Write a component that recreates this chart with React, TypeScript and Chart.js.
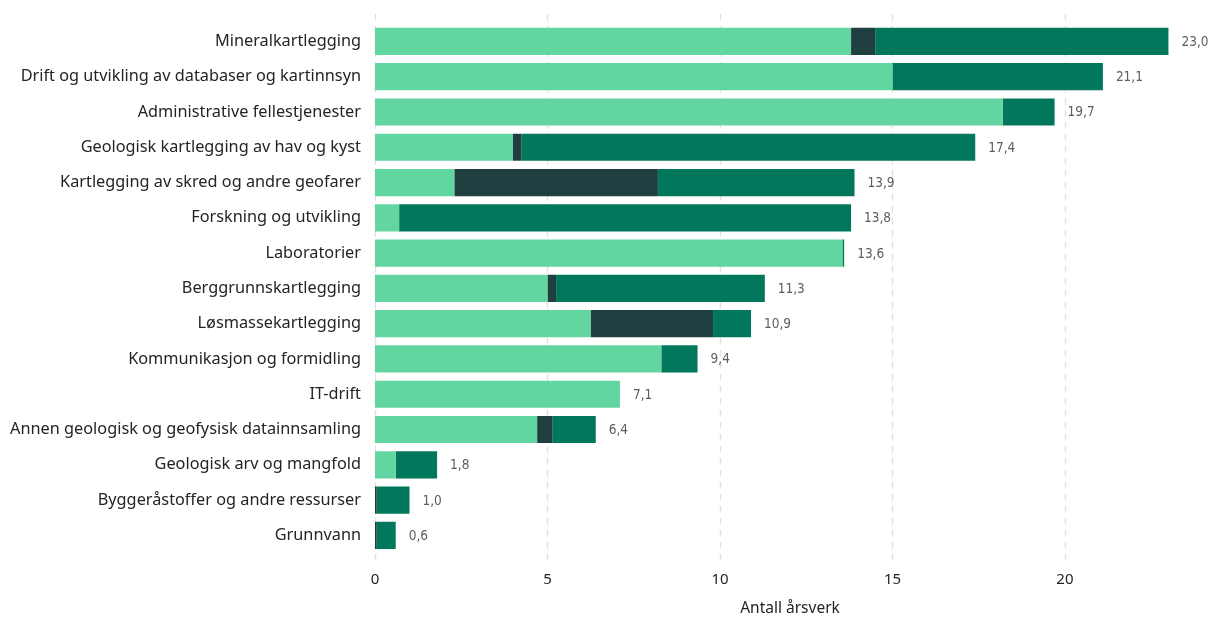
import React, { useEffect, useRef } from "react";
import { Chart, registerables } from "chart.js";

Chart.register(...registerables);

const categories = [
  "Mineralkartlegging",
  "Drift og utvikling av databaser og kartinnsyn",
  "Administrative fellestjenester",
  "Geologisk kartlegging av hav og kyst",
  "Kartlegging av skred og andre geofarer",
  "Forskning og utvikling",
  "Laboratorier",
  "Berggrunnskartlegging",
  "Løsmassekartlegging",
  "Kommunikasjon og formidling",
  "IT-drift",
  "Annen geologisk og geofysisk datainnsamling",
  "Geologisk arv og mangfold",
  "Byggeråstoffer og andre ressurser",
  "Grunnvann",
];

const seriesLight = [13.8, 15.0, 18.2, 4.0, 2.3, 0.7, 13.55, 5.0, 6.25, 8.3, 7.1, 4.7, 0.6, 0, 0];
const seriesDark = [0.7, 0, 0, 0.25, 5.9, 0, 0, 0.25, 3.55, 0, 0, 0.45, 0, 0.05, 0.05];
const seriesGreen = [8.5, 6.1, 1.5, 13.15, 5.7, 13.1, 0.05, 6.05, 1.1, 1.05, 0, 1.25, 1.2, 0.95, 0.55];
const totals = [23.0, 21.1, 19.7, 17.4, 13.9, 13.8, 13.6, 11.3, 10.9, 9.4, 7.1, 6.4, 1.8, 1.0, 0.6];
const xTicks = [0, 5, 10, 15, 20];

const FONT = "'Segoe UI', 'Noto Sans', 'Open Sans', sans-serif";

export default function App() {
  const ref = useRef<HTMLCanvasElement | null>(null);

  useEffect(() => {
    document.body.style.margin = "0";
    const canvas = ref.current;
    if (!canvas) return;

    const gridPlugin = {
      id: "dashGrid",
      beforeDatasetsDraw(chart: any) {
        const { ctx, chartArea, scales } = chart;
        const xs = scales.x;
        ctx.save();
        ctx.strokeStyle = "#e3e3e3";
        ctx.lineWidth = 1.5;
        ctx.setLineDash([7, 5]);
        for (const v of xTicks) {
          const px = Math.round(xs.getPixelForValue(v)) + 0.5;
          ctx.beginPath();
          ctx.moveTo(px, chartArea.top - 10);
          ctx.lineTo(px, chartArea.bottom + 11);
          ctx.stroke();
        }
        ctx.restore();
      },
    };

    const labelPlugin = {
      id: "totals",
      afterDatasetsDraw(chart: any) {
        const { ctx, scales } = chart;
        const xs = scales.x;
        const ys = scales.y;
        ctx.save();
        ctx.fillStyle = "#605E5C";
        ctx.font = "13.5px 'DejaVu Sans Condensed', 'Liberation Sans Narrow', sans-serif";
        ctx.textAlign = "left";
        ctx.textBaseline = "middle";
        categories.forEach((_, i) => {
          const end = seriesLight[i] + seriesDark[i] + seriesGreen[i];
          const px = xs.getPixelForValue(end) + 13;
          const py = ys.getPixelForValue(i) + 1;
          ctx.fillText(totals[i].toFixed(1).replace(".", ","), px, py);
        });
        ctx.restore();
      },
    };

    const chart = new Chart(canvas, {
      type: "bar",
      data: {
        labels: categories,
        datasets: [
          { label: "A", data: seriesLight, backgroundColor: "#63D5A1" },
          { label: "B", data: seriesDark, backgroundColor: "#1F3F40" },
          { label: "C", data: seriesGreen, backgroundColor: "#01785B" },
        ],
      },
      options: {
        indexAxis: "y",
        animation: false,
        responsive: false,
        maintainAspectRatio: false,
        datasets: { bar: { barPercentage: 0.77, categoryPercentage: 1, borderWidth: 0 } },
        layout: { padding: { top: 22, right: 17, bottom: 0, left: 0 } },
        plugins: { legend: { display: false }, tooltip: { enabled: false } },
        scales: {
          x: {
            stacked: true,
            min: 0,
            max: 24.06,
            afterBuildTicks: (axis: any) => {
              axis.ticks = xTicks.map((v) => ({ value: v }));
            },
            afterFit: (scale: any) => {
              scale.height = 66;
            },
            grid: { display: false, drawTicks: false },
            border: { display: false },
            ticks: {
              padding: 18,
              color: "#252423",
              font: { family: FONT, size: 15 },
            },
            title: {
              display: true,
              text: "Antall årsverk",
              color: "#252423",
              font: { family: FONT, size: 15.5 },
              padding: { top: 11, bottom: 1 },
            },
          },
          y: {
            stacked: true,
            afterFit: (scale: any) => {
              scale.width = 375;
            },
            grid: { display: false, drawTicks: false },
            border: { display: false },
            ticks: {
              padding: 14,
              color: "#252423",
              font: { family: FONT, size: 16.3 },
              autoSkip: false,
            },
          },
        },
      },
      plugins: [gridPlugin, labelPlugin],
    });

    return () => chart.destroy();
  }, []);

  return (
    <div style={{ width: 1222, height: 619 }}>
      <canvas ref={ref} width={1222} height={619} style={{ display: "block" }} />
    </div>
  );
}
